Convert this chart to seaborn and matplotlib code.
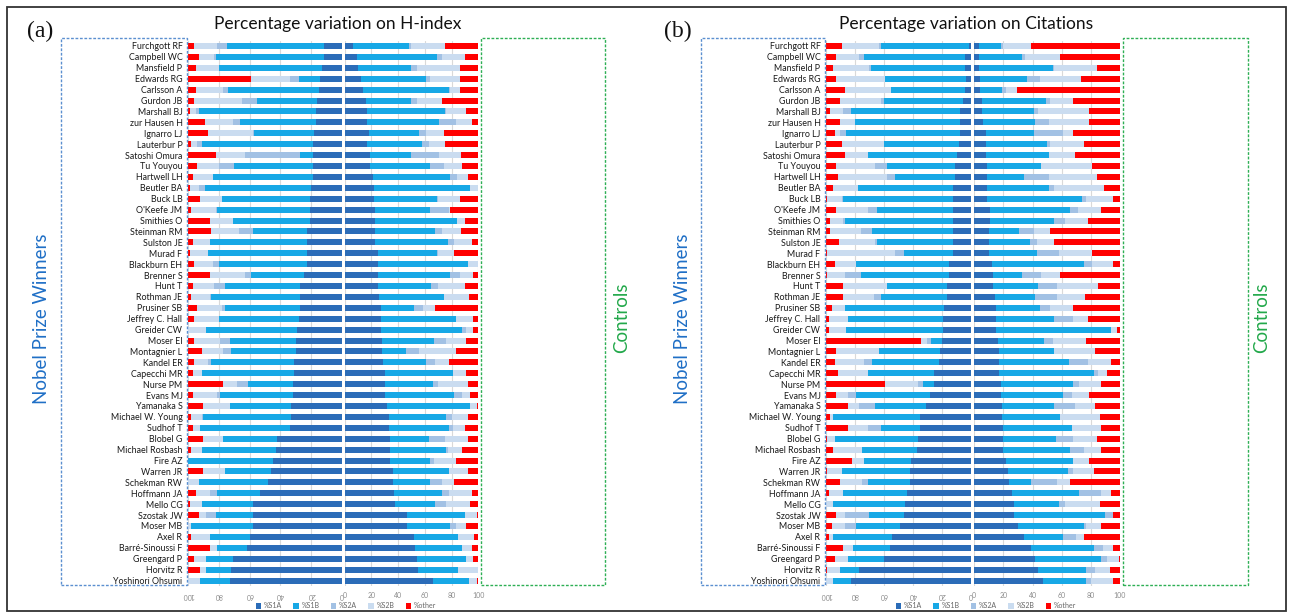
import numpy as np
import matplotlib
matplotlib.use("Agg")
import matplotlib.pyplot as plt
from matplotlib.patches import Rectangle, Patch
import seaborn as sns

# ---------------- data ----------------
names = ["Furchgott RF", "Campbell WC", "Mansfield P", "Edwards RG", "Carlsson A", "Gurdon JB",
         "Marshall BJ", "zur Hausen H", "Ignarro LJ", "Lauterbur P", "Satoshi Omura", "Tu Youyou",
         "Hartwell LH", "Beutler BA", "Buck LB", "O'Keefe JM", "Smithies O", "Steinman RM",
         "Sulston JE", "Murad F", "Blackburn EH", "Brenner S", "Hunt T", "Rothman JE",
         "Prusiner SB", "Jeffrey C. Hall", "Greider CW", "Moser EI", "Montagnier L", "Kandel ER",
         "Capecchi MR", "Nurse PM", "Evans MJ", "Yamanaka S", "Michael W. Young", "Sudhof T",
         "Blobel G", "Michael Rosbash", "Fire AZ", "Warren JR", "Schekman RW", "Hoffmann JA",
         "Mello CG", "Szostak JW", "Moser MB", "Axel R", "Barré-Sinoussi F", "Greengard P",
         "Horvitz R", "Yoshinori Ohsumi"]

categories = ["%S1A", "%S1B", "%S2A", "%S2B", "%other"]
left_ticks = ["100", "80", "60", "40", "20", "0"]
right_ticks = ["0", "20", "40", "60", "80", "100"]

# (a) H-index, Nobel Prize winners
hn_s1a = [12,12,13,14,15,16,17,17,18,19,19,19,19,20,21,21,21,23,23,23,23,25,27,27,27,28,29,30,30,31,31,32,32,33,33,34,42,43,45,46,48,53,58,58,58,60,62,71,72,73]
hn_s1b = [63,70,67,14,59,39,76,49,39,72,8,51,65,69,57,60,50,35,63,64,57,34,49,58,49,52,59,43,42,54,60,29,47,40,57,58,35,48,55,30,45,28,33,24,40,26,19,17,16,19]
hn_s2a = [6,1,0,6,3,10,2,5,1,3,36,10,0,4,0,1,0,9,0,0,4,4,7,1,2,0,0,6,5,2,0,7,2,0,1,0,0,0,0,0,0,5,0,6,0,0,0,0,0,0]
hn_s2b = [15,10,15,25,18,31,4,18,29,4,19,14,13,6,14,16,15,18,11,12,12,23,14,12,16,16,12,17,14,9,6,9,16,17,7,5,13,7,0,14,7,9,8,5,2,12,5,8,4,8]
hn_oth = [4,7,5,41,5,4,1,11,13,2,18,6,3,1,8,2,14,15,3,1,4,14,3,2,6,4,0,4,9,4,3,23,3,10,2,3,10,2,0,10,0,5,1,7,0,2,14,4,8,0]

# (a) H-index, Controls
hc_s1a = [6,9,10,12,14,16,17,17,18,17,19,19,21,22,22,23,23,23,23,25,25,25,25,26,27,27,27,28,28,29,30,30,30,32,33,33,34,34,34,36,36,37,38,47,47,52,53,54,55,66]
hc_s1b = [42,60,40,49,64,34,58,54,38,41,31,45,58,72,47,41,61,45,54,44,67,54,40,48,25,56,61,39,18,32,51,36,52,62,43,45,29,42,30,42,28,36,30,43,32,33,35,37,30,27]
hc_s2a = [2,4,4,3,1,4,1,12,5,5,21,10,5,0,1,14,0,5,5,1,0,7,5,0,7,0,3,9,10,7,0,4,6,0,4,3,12,1,3,0,9,5,8,0,4,0,0,0,0,0]
hc_s2b = [25,17,32,22,7,19,15,12,13,12,16,14,8,6,16,1,6,14,13,12,8,10,20,19,9,13,5,15,27,10,10,22,6,5,12,9,17,11,16,14,9,17,18,9,8,12,7,5,15,6]
hc_oth = [25,10,14,14,14,27,9,5,26,25,13,12,8,0,14,21,10,13,5,18,0,4,10,7,32,4,4,9,17,22,9,8,6,1,8,10,8,12,17,8,18,5,6,1,9,3,5,4,0,1]

# (b) Citations, Nobel Prize winners
cn_s1a = [1,4,4,3,4,5,7,7,7,8,9,11,11,12,12,12,12,12,12,12,15,15,16,16,18,19,19,20,21,22,25,25,28,31,35,35,36,37,41,42,42,44,45,46,49,54,56,60,77,83]
cn_s1b = [61,70,65,56,51,55,76,73,79,52,62,47,41,66,76,53,75,56,53,34,64,61,42,46,69,66,67,7,42,46,46,8,51,35,60,27,58,38,33,47,29,44,50,24,30,41,25,25,13,12]
cn_s2a = [1,3,1,0,0,2,5,0,4,0,0,8,6,0,1,6,1,8,1,6,0,11,0,5,0,0,0,3,0,6,0,3,6,11,0,9,0,0,0,0,4,0,0,17,8,0,0,0,0,0]
cn_s2b = [26,16,25,34,32,28,9,10,4,29,16,27,34,17,10,22,9,21,25,47,15,12,30,21,9,13,12,4,30,20,21,23,8,8,2,14,5,20,8,10,15,10,5,6,9,3,7,9,9,5]
cn_oth = [11,7,5,7,13,10,3,10,6,11,13,7,8,5,1,7,3,3,9,1,6,1,12,12,4,2,2,66,7,6,8,41,7,15,3,15,1,5,18,1,10,2,0,7,4,2,12,6,1,0]

# (b) Citations, Controls
cc_s1a = [3,3,3,4,4,5,5,6,8,8,8,9,9,9,9,11,11,10,10,10,12,13,13,14,15,15,15,16,17,17,17,18,18,19,19,20,20,20,22,23,24,26,27,27,30,34,39,42,44,47]
cc_s1b = [15,30,51,32,15,44,36,36,33,42,43,37,25,42,65,55,44,21,28,33,63,20,31,28,30,40,79,32,38,48,65,50,43,36,40,47,36,46,46,41,15,46,31,63,45,27,43,45,33,30]
cc_s2a = [2,2,1,9,3,3,3,9,20,2,0,0,17,4,3,5,7,10,5,15,6,13,13,15,7,13,0,6,0,13,3,4,6,14,0,0,12,9,0,4,18,15,4,5,2,9,6,4,6,3]
cc_s2b = [19,24,29,28,7,16,35,28,7,23,18,35,33,34,18,16,16,11,12,23,14,13,28,19,16,10,4,23,28,16,6,15,12,14,27,20,16,12,11,14,9,7,24,0,10,5,7,8,10,15]
cc_oth = [61,41,16,27,71,32,21,21,32,25,31,19,16,11,5,13,22,48,45,19,5,41,15,24,32,22,2,23,17,6,9,13,21,17,14,13,16,13,21,18,34,6,14,5,13,25,5,1,7,5]

# ---------------- style ----------------
sns.set_theme(style="white")
plt.rcParams['font.family'] = ['Lato', 'DejaVu Sans']

colors = ['#2B6CB8', '#17A8E6', '#A2C1E4', '#CADCF0', '#FF0000']

W, H = 1292, 616
fig = plt.figure(figsize=(W / 100, H / 100), dpi=100)


def rect(x0, y0, x1, y1):
    return [x0 / W, 1 - y1 / H, (x1 - x0) / W, (y1 - y0) / H]


def draw_half(ax, segs, mirrored, show_names):
    cum = np.cumsum(np.array(segs, dtype=float), axis=0)
    for k in range(4, -1, -1):
        sns.barplot(x=cum[k], y=names, orient='y', color=colors[k], width=0.55,
                    saturation=1, errorbar=None, linewidth=0, ax=ax, zorder=3 + (4 - k))
    ax.set_xlabel('')
    ax.set_ylabel('')
    ax.set_ylim(len(names) - 0.5, -0.5)
    ax.set_xticks([0, 20, 40, 60, 80, 100])
    if mirrored:
        ax.set_xlim(100, 0)
        ax.set_xticklabels(list(reversed(left_ticks)), rotation=180)
    else:
        ax.set_xlim(0, 100)
        ax.set_xticklabels(right_ticks)
    ax.grid(axis='x', color='#D9D9D9', linewidth=0.8, zorder=0)
    ax.grid(axis='y', visible=False)
    ax.set_axisbelow(True)
    for s in ax.spines.values():
        s.set_visible(False)
    ax.tick_params(axis='x', length=0, labelsize=5, labelcolor='#8C8C8C', pad=4)
    if show_names:
        ax.tick_params(axis='y', length=0, labelsize=6.4, labelcolor='#1A1A1A', pad=4)
    else:
        ax.set_yticks([])


top, bot = 40.5, 586.0
panels = [
    dict(lx=(188, 342), rx=(344.5, 478.3),
         nobel=[hn_s1a, hn_s1b, hn_s2a, hn_s2b, hn_oth],
         ctrl=[hc_s1a, hc_s1b, hc_s2a, hc_s2b, hc_oth],
         title="Percentage variation on H-index", tx=338, lab="(a)", labx=40,
         bluebox=(61, 187), greenbox=(481, 605), nobx=42, ctlx=622, legx=346),
    dict(lx=(826, 970.5), rx=(974.3, 1120),
         nobel=[cn_s1a, cn_s1b, cn_s2a, cn_s2b, cn_oth],
         ctrl=[cc_s1a, cc_s1b, cc_s2a, cc_s2b, cc_oth],
         title="Percentage variation on Citations", tx=966, lab="(b)", labx=678,
         bluebox=(701, 825), greenbox=(1123, 1248), nobx=683, ctlx=1262, legx=986),
]

for p in panels:
    axl = fig.add_axes(rect(p['lx'][0], top, p['lx'][1], bot))
    axr = fig.add_axes(rect(p['rx'][0], top, p['rx'][1], bot))
    draw_half(axl, p['nobel'], True, True)
    draw_half(axr, p['ctrl'], False, False)

    fig.text(p['tx'] / W, 1 - 24 / H, p['title'], ha='center', va='center',
             fontsize=12.5, color='#111111')
    fig.text(p['labx'] / W, 1 - 31 / H, p['lab'], ha='center', va='center',
             fontsize=17, family='Liberation Serif', color='#111111')

    bx0, bx1 = p['bluebox']
    fig.add_artist(Rectangle((bx0 / W, 1 - 585 / H), (bx1 - bx0) / W, (585 - 38) / H,
                             transform=fig.transFigure, fill=False, ec='#5B8FD0',
                             lw=1.0, ls=(0, (2, 1.2))))
    gx0, gx1 = p['greenbox']
    fig.add_artist(Rectangle((gx0 / W, 1 - 585 / H), (gx1 - gx0) / W, (585 - 38) / H,
                             transform=fig.transFigure, fill=False, ec='#2EAF55',
                             lw=1.0, ls=(0, (2, 1.2))))
    fig.text(p['nobx'] / W, 1 - 319 / H, "Nobel Prize Winners", rotation=90,
             ha='center', va='center', fontsize=13.5, color='#1F6FC6')
    fig.text(p['ctlx'] / W, 1 - 318 / H, "Controls", rotation=90,
             ha='center', va='center', fontsize=13.5, color='#22A84A')

    handles = [Patch(facecolor=c, edgecolor='none') for c in colors]
    fig.legend(handles, categories, loc='center', bbox_to_anchor=(p['legx'] / W, 1 - 606 / H),
               ncol=5, frameon=False, fontsize=5, handlelength=0.8, handleheight=0.8,
               handletextpad=0.4, columnspacing=1.6, labelcolor='#666666')

fig.add_artist(Rectangle((7 / W, 1 - 611 / H), (1286 - 7) / W, (611 - 7) / H,
                         transform=fig.transFigure, fill=False, ec='#333333', lw=1.3))

fig.savefig("out.png", dpi=100)
